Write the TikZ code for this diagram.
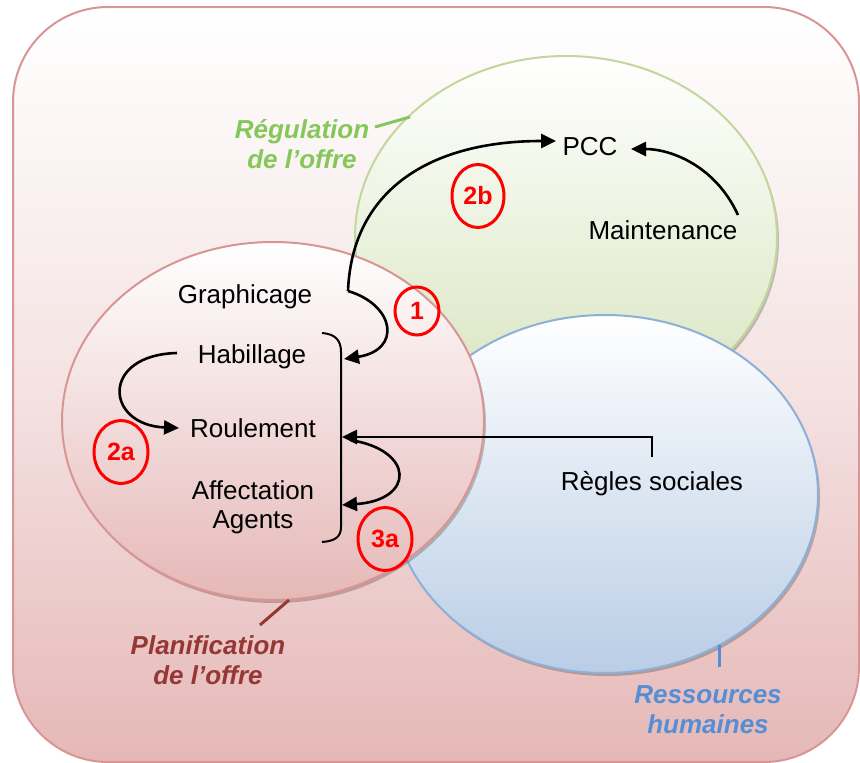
\documentclass[tikz,border=0pt]{standalone}
\usepackage{fontspec}
\setmainfont{Liberation Sans}
\usetikzlibrary{arrows.meta,shapes.geometric}
\definecolor{pinkbot}{RGB}{229,184,183}
\definecolor{pinkedge}{RGB}{217,149,148}
\definecolor{greenbot}{RGB}{215,228,189}
\definecolor{greenedge}{RGB}{195,214,155}
\definecolor{bluebot}{RGB}{185,205,229}
\definecolor{blueedge}{RGB}{141,176,216}
\definecolor{greenlab}{RGB}{133,200,90}
\definecolor{redlab}{RGB}{149,55,53}
\definecolor{bluelab}{RGB}{85,142,213}
\begin{document}
\begin{tikzpicture}[x=1pt,y=-1pt,
  txt/.style={inner sep=5pt,font=\fontsize{26}{29}\selectfont,align=center},
  lab/.style={inner sep=0pt,font=\fontsize{26}{30}\selectfont\bfseries\itshape,align=center},
  numcirc/.style={ellipse,draw=red,line width=3pt,inner sep=0pt,text=red,
     font=\fontsize{25}{28}\selectfont\bfseries},
  arr/.style={line width=2.6pt,-{Triangle[length=15pt,width=14pt]}},
  shadowell/.style={fill=black,opacity=0.22}]
\useasboundingbox (0,0) rectangle (860,763);
% outer frame
\path[draw=pinkedge,line width=2pt,top color=white,bottom color=pinkbot,
  middle color=pinkbot!40!white,rounded corners=95pt] (13,7) rectangle (859,762);
% green ellipse
\path[shadowell] (568,240) ellipse [x radius=211,y radius=181];
\path[draw=greenedge,line width=2pt,top color=white,bottom color=greenbot]
  (566,237) ellipse [x radius=211,y radius=181];
% blue ellipse
\path[shadowell] (607,497) ellipse [x radius=213,y radius=179];
\path[draw=blueedge,line width=2pt,top color=white,bottom color=bluebot]
  (605,494) ellipse [x radius=213,y radius=179];
% pink ellipse
\path[shadowell] (275,424) ellipse [x radius=211,y radius=179];
\path[draw=pinkedge,line width=2pt,top color=white,bottom color=pinkbot]
  (273,421) ellipse [x radius=211,y radius=179];
% labels of sets
\node[lab,text=greenlab,anchor=base] (reg) at (302,168) {Régulation\\de l’offre};
\draw[greenlab,line width=3pt] (375,127) -- (410,117);
\node[lab,text=redlab,anchor=base] (plan) at (208,684) {Planification\\de l’offre};
\draw[redlab,line width=3pt] (260,625) -- (289,600);
\node[lab,text=bluelab,anchor=base] (rh) at (708,733) {Ressources\\humaines};
\draw[bluelab,line width=3pt] (719,645) -- (719,667);
% text nodes
\node[txt,anchor=base] (pcc) at (590,155) {PCC};
\node[txt,anchor=base] (maint) at (663,239) {Maintenance};
\node[txt,anchor=base] (graph) at (245,303) {Graphicage};
\node[txt,anchor=base] (habil) at (252,363) {Habillage};
\node[txt,anchor=base] (roul) at (253,437) {Roulement};
\node[txt,anchor=base] (affec) at (253,528) {Affectation\\Agents};
\node[txt,anchor=base] (regles) at (652,490) {Règles sociales};
% numbered circles
\node[numcirc,minimum width=44pt,minimum height=48pt] (n1) at (417,311) {1};
\node[numcirc,minimum width=52pt,minimum height=63pt] (n2b) at (478,196) {2b};
\node[numcirc,minimum width=54pt,minimum height=63pt] (n2a) at (121,452) {2a};
\node[numcirc,minimum width=54pt,minimum height=63pt] (n3a) at (385,539) {3a};
% connector end points
\coordinate (gsrc) at (348,291);
\coordinate (pcctip) at (556,141);
\coordinate (habtip) at (344,359);
\coordinate (msrc) at (738,215);
\coordinate (pccright) at (631,149);
\coordinate (habsrc) at (177,353);
\coordinate (roultip) at (179,428);
\coordinate (rsrc) at (652,457);
\coordinate (roulright) at (342,437);
\coordinate (r3src) at (350,440);
\coordinate (afftip) at (342,505);
% bracket
\draw[line width=2pt] (322,333) .. controls (335,334) and (341,340) .. (341,352)
  -- (341,527) .. controls (341,537) and (335,541) .. (322,542);
% connectors
\draw[arr] (gsrc) .. controls (352,190) and (430,141) .. (pcctip);
\draw[arr] (gsrc) .. controls (395,305) and (402,350) .. (habtip);
\draw[arr] (msrc) .. controls (715,165) and (670,149) .. (pccright);
\draw[arr] (habsrc) .. controls (100,355) and (105,425) .. (roultip);
\draw[arr] (rsrc) |- (roulright);
\draw[arr] (r3src) .. controls (415,450) and (415,500) .. (afftip);
\end{tikzpicture}
\end{document}
